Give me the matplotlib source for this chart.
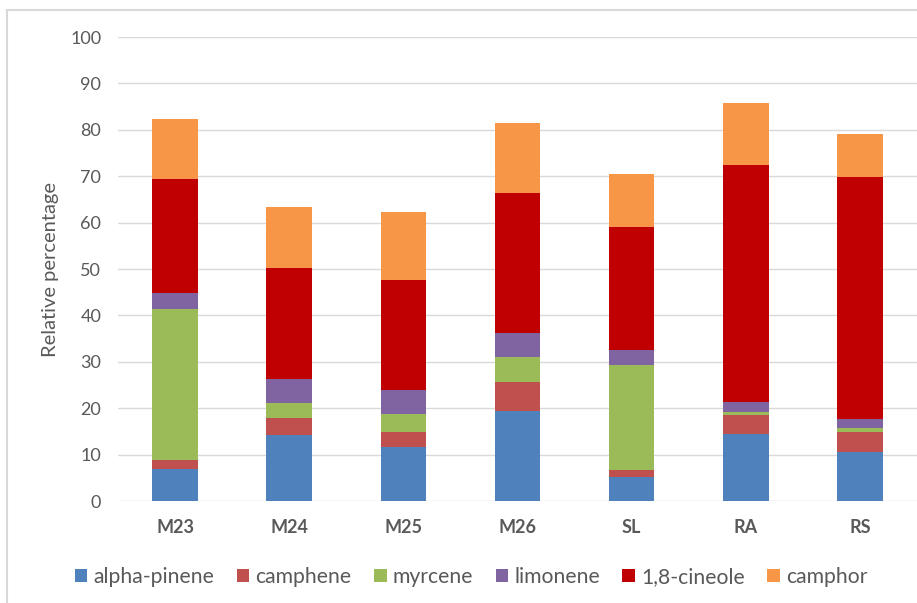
import matplotlib.pyplot as plt
from matplotlib.patches import Rectangle

plt.rcParams['font.family'] = ['Lato', 'DejaVu Sans']

# Samples and compounds
samples = ['M23', 'M24', 'M25', 'M26', 'SL', 'RA', 'RS']
alpha_pinene = [6.9, 14.2, 11.7, 19.4, 5.2, 14.4, 10.5]
camphene = [1.9, 3.8, 3.1, 6.3, 1.4, 4.1, 4.4]
myrcene = [32.6, 3.2, 3.9, 5.4, 22.7, 0.7, 0.8]
limonene = [3.4, 5.2, 5.3, 5.2, 3.3, 2.2, 2.0]
cineole = [24.6, 23.8, 23.6, 30.0, 26.5, 51.0, 52.1]
camphor = [13.0, 13.1, 14.8, 15.2, 11.3, 13.4, 9.4]

series = [
    ('alpha-pinene', alpha_pinene, '#4F81BD'),
    ('camphene', camphene, '#C0504D'),
    ('myrcene', myrcene, '#9BBB59'),
    ('limonene', limonene, '#8064A2'),
    ('1,8-cineole', cineole, '#C00000'),
    ('camphor', camphor, '#F79646'),
]

fig = plt.figure(figsize=(9.17, 6.03), dpi=100)
ax = fig.add_axes([0.1287, 0.169, 0.8713, 0.7696])

x = range(len(samples))
bottom = [0.0] * len(samples)
for name, vals, col in series:
    ax.bar(x, vals, width=0.4, bottom=bottom, color=col, label=name, zorder=3)
    bottom = [b + v for b, v in zip(bottom, vals)]

ax.set_xlim(-0.5, len(samples) - 0.5)
ax.set_ylim(0, 100)
ax.set_yticks(range(0, 101, 10))
ax.yaxis.grid(True, color='#D9D9D9', linewidth=1, zorder=0)
for s in ax.spines.values():
    s.set_visible(False)
ax.tick_params(axis='both', length=0, colors='#595959')
ax.tick_params(axis='y', pad=12, labelsize=13)
ax.tick_params(axis='x', pad=13, labelsize=13)
ax.set_xticks(list(x))
ax.set_xticklabels(samples, fontweight='bold')
ax.set_ylabel('Relative percentage', color='#595959', fontsize=14.5, labelpad=8)

ax.legend(loc='center', bbox_to_anchor=(0.442, -0.163), ncol=6, frameon=False,
          fontsize=15.2, handlelength=0.6, handleheight=0.6, handletextpad=0.3,
          columnspacing=1.05, labelcolor='#595959')

fig.add_artist(Rectangle((7 / 917, -0.01), 1.0, (603 - 10) / 603 + 0.01,
                         transform=fig.transFigure, fill=False,
                         edgecolor='#D9D9D9', linewidth=1.5))

fig.savefig('out.png', dpi=100)
